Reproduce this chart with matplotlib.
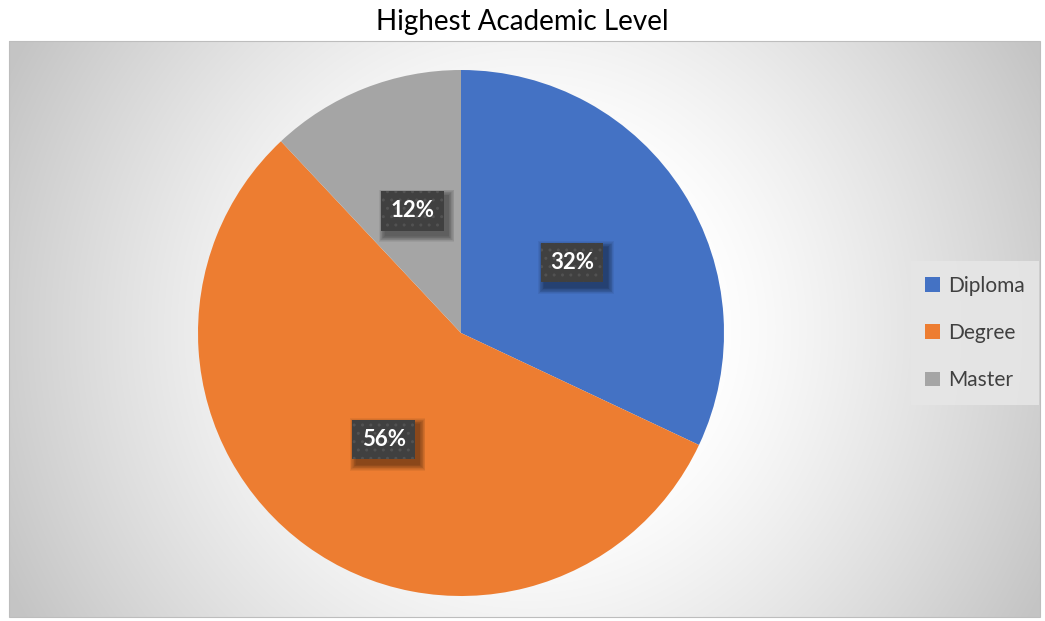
import numpy as np
import matplotlib
matplotlib.use("Agg")
import matplotlib.pyplot as plt
from matplotlib.patches import Rectangle

categories = ["Diploma", "Degree", "Master"]
shares = [32, 56, 12]
colors = ["#4472C4", "#ED7D31", "#A5A5A5"]
title = "Highest Academic Level"

W, H = 1045, 621
fig = plt.figure(figsize=(W / 100, H / 100), dpi=100)
fig.patch.set_facecolor("white")

ax = fig.add_axes([0, 0, 1, 1])

# plot area with a radial grey-to-white fill
x0, x1, y0, y1 = 9, 1040, 4, 580
yy, xx = np.mgrid[y0:y1, x0:x1]
cx, cy = 527, 291
d = np.hypot(xx - cx, yy - cy)
shade = 1.0 - 0.23 * np.clip((d - 180) / 400, 0, 1) ** 1.2
img = np.dstack([shade, shade, shade])
ax.imshow(img, extent=(x0, x1, y0, y1), origin="lower", zorder=0, interpolation="bilinear")
ax.add_patch(Rectangle((x0, y0), x1 - x0, y1 - y0, fill=False, edgecolor="#bdbdbd", lw=0.8, zorder=1))

wedges, texts, autotexts = ax.pie(
    shares, colors=colors, startangle=90, counterclock=False,
    center=(461, 288), radius=263, autopct="%d%%", pctdistance=0.5,
    wedgeprops=dict(linewidth=0), textprops=dict(zorder=5),
)
for w in wedges:
    w.set_zorder(2)

for t in autotexts:
    t.set_color("white")
    t.set_fontsize(16)
    t.set_fontweight("bold")
    t.set_fontfamily("Lato")
    t.set_bbox(dict(boxstyle="square,pad=0.42", facecolor="#404040",
                    edgecolor="#525252", hatch="..", linewidth=0))

ax.set_xlim(0, W)
ax.set_ylim(0, H)
ax.set_aspect("auto")
ax.axis("off")

# soft drop shadows under the value boxes
fig.canvas.draw()
for t in autotexts:
    bb = t.get_bbox_patch().get_window_extent()
    for k in range(9):
        grow = 9 - k
        ax.add_patch(Rectangle((bb.x0 + 4 - grow * 0.7, bb.y0 - 5 - grow * 0.7),
                               bb.width + grow * 1.4, bb.height + grow * 1.4,
                               transform=None, facecolor="black", edgecolor="none",
                               alpha=0.055, zorder=4))

fig.text(0.5, 1 - 22 / H, title, ha="center", va="center",
         fontsize=20, fontfamily="Lato", color="black")

leg = ax.legend(wedges, categories, loc="center", bbox_to_anchor=(975 / W, 1 - 333 / H),
                bbox_transform=fig.transFigure, frameon=True, fancybox=False,
                prop=dict(family="Lato", size=15), labelcolor="#404040",
                handlelength=0.7, handleheight=0.7, handletextpad=0.4,
                labelspacing=1.3, borderpad=0.7, borderaxespad=0)
leg.get_frame().set_facecolor("#e6e6e6")
leg.get_frame().set_edgecolor("none")
leg.get_frame().set_alpha(0.9)
leg.set_zorder(6)

fig.savefig("out.png", dpi=100)
